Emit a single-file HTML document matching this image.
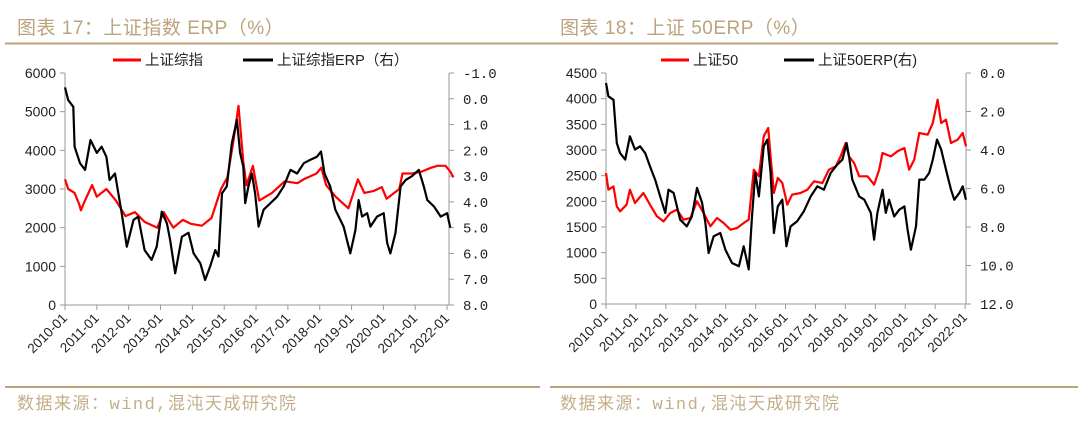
<!DOCTYPE html>
<html><head><meta charset="utf-8">
<style>
body{margin:0;background:#fff;width:1080px;height:424px;overflow:hidden;font-family:"Liberation Sans","Noto Sans CJK SC",sans-serif;}
svg{display:block}
</style></head>
<body>
<svg id="chart" width="1080" height="424" xmlns="http://www.w3.org/2000/svg">
<g>
<text x="17" y="34" font-size="19" fill="#bba37c" letter-spacing="0.5" font-family="Liberation Sans,Noto Sans CJK SC,sans-serif">图表 17：上证指数 ERP（%）</text>
<line x1="5" y1="43.5" x2="540" y2="43.5" stroke="#bca27a" stroke-width="2"/>
</g>
<g>
<text x="560" y="34" font-size="19" fill="#bba37c" letter-spacing="0.5" font-family="Liberation Sans,Noto Sans CJK SC,sans-serif">图表 18：上证 50ERP（%）</text>
<line x1="540" y1="43.5" x2="1058" y2="43.5" stroke="#bca27a" stroke-width="2"/>
</g>
<line x1="5" y1="387" x2="540" y2="387" stroke="#bca27a" stroke-width="2"/>
<line x1="550" y1="387" x2="1078" y2="387" stroke="#bca27a" stroke-width="2"/>
<text x="17" y="409" font-size="17" letter-spacing="1.5" fill="#c4ad88" font-family="Liberation Mono,Noto Sans CJK SC,monospace">数据来源：wind,混沌天成研究院</text>
<text x="560" y="409" font-size="17" letter-spacing="1.5" fill="#c4ad88" font-family="Liberation Mono,Noto Sans CJK SC,monospace">数据来源：wind,混沌天成研究院</text>
</svg>
<script>
// ---- Chart 17 data ----
const xTickLabels = ["2010-01","2011-01","2012-01","2013-01","2014-01","2015-01","2016-01","2017-01","2018-01","2019-01","2020-01","2021-01","2022-01"];
const leftAxisTicks1 = [0,1000,2000,3000,4000,5000,6000];
const rightAxisTicks1 = ["-1.0","0.0","1.0","2.0","3.0","4.0","5.0","6.0","7.0","8.0"];
const shIndexYears = [0,0.1,0.3,0.45,0.5,0.6,0.85,1.0,1.3,1.6,1.9,2.2,2.5,2.9,3.1,3.4,3.7,3.95,4.3,4.6,4.9,5.1,5.3,5.45,5.6,5.7,5.9,6.1,6.5,6.9,7.3,7.5,7.9,8.05,8.2,8.5,8.9,9.2,9.4,9.7,9.95,10.1,10.5,10.6,10.9,11.2,11.5,11.7,11.95,12.1,12.2];
const shIndexValues = [3250,3000,2900,2600,2450,2650,3100,2800,3000,2700,2300,2400,2150,2000,2400,2000,2200,2100,2050,2250,3000,3300,4300,5150,3700,3100,3600,2700,2900,3200,3150,3250,3400,3550,3100,2800,2500,3250,2900,2950,3050,2750,3000,3400,3400,3450,3550,3600,3600,3450,3300];
const shErpYears = [0,0.1,0.26,0.3,0.47,0.63,0.8,1.0,1.15,1.3,1.4,1.57,1.78,1.94,2.15,2.3,2.5,2.72,2.88,3.04,3.2,3.3,3.46,3.67,3.88,4.04,4.25,4.4,4.56,4.72,4.82,4.93,5.08,5.24,5.4,5.5,5.6,5.66,5.76,5.87,5.97,6.08,6.24,6.45,6.66,6.87,7.08,7.29,7.5,7.7,7.91,8.04,8.15,8.33,8.49,8.75,8.96,9.12,9.22,9.33,9.49,9.59,9.8,10.01,10.12,10.22,10.38,10.54,10.7,10.9,11.11,11.27,11.38,11.59,11.8,12.0,12.1];
const shErpValues = [-0.44,0.05,0.31,1.86,2.5,2.76,1.6,2.1,1.86,2.25,3.15,2.9,4.44,5.74,4.7,4.57,5.87,6.25,5.74,4.38,4.83,5.47,6.77,5.35,5.2,6.0,6.38,7.03,6.5,5.87,6.12,3.67,3.4,1.73,0.82,2.1,2.63,4.05,3.4,2.9,3.67,4.96,4.3,4.05,3.8,3.4,2.76,2.9,2.5,2.37,2.25,2.05,2.9,3.4,4.3,4.96,6.0,5.1,3.93,4.57,4.44,4.96,4.57,4.44,5.6,6.0,5.2,3.4,3.15,3.0,2.76,3.4,3.93,4.18,4.57,4.44,5.0];
// ---- Chart 18 data ----
const leftAxisTicks2 = [0,500,1000,1500,2000,2500,3000,3500,4000,4500];
const rightAxisTicks2 = ["0.0","2.0","4.0","6.0","8.0","10.0","12.0"];
const sz50Years = [0,0.08,0.25,0.36,0.47,0.69,0.8,0.97,1.25,1.47,1.7,1.92,2.15,2.37,2.59,2.82,3.04,3.26,3.49,3.71,3.93,4.16,4.38,4.6,4.77,4.94,5.11,5.27,5.42,5.5,5.61,5.74,5.89,6.06,6.22,6.5,6.73,6.95,7.23,7.45,7.68,7.84,8.01,8.12,8.29,8.46,8.74,8.96,9.13,9.24,9.52,9.74,9.97,10.13,10.3,10.47,10.75,10.92,11.08,11.2,11.36,11.53,11.75,11.92,12.03];
const sz50Values = [2552,2227,2290,1900,1805,1935,2227,1967,2162,1935,1708,1610,1773,1838,1643,1675,2000,1773,1513,1675,1578,1448,1480,1578,1643,2617,2487,3266,3428,2876,2162,2455,2357,1935,2130,2162,2227,2390,2357,2617,2682,2876,3136,2876,2747,2487,2487,2325,2617,2941,2876,2974,3039,2617,2812,3331,3299,3526,3980,3526,3591,3136,3201,3331,3071];
const sz50ErpYears = [0,0.08,0.25,0.36,0.47,0.64,0.8,0.97,1.14,1.31,1.47,1.64,1.81,1.98,2.09,2.26,2.48,2.7,2.87,3.04,3.21,3.32,3.43,3.6,3.82,3.99,4.21,4.44,4.6,4.77,4.88,4.99,5.11,5.27,5.39,5.5,5.61,5.74,5.89,6.03,6.17,6.39,6.61,6.84,7.06,7.28,7.51,7.73,7.9,8.04,8.12,8.23,8.46,8.63,8.85,8.96,9.07,9.24,9.35,9.46,9.63,9.8,9.97,10.08,10.19,10.36,10.47,10.64,10.8,10.92,11.06,11.2,11.36,11.53,11.64,11.81,11.92,12.03];
const sz50ErpValues = [0.52,1.21,1.39,3.64,4.16,4.5,3.29,3.98,3.81,4.16,4.85,5.54,6.41,7.27,6.06,6.23,7.62,7.97,7.45,5.97,6.75,7.79,9.35,8.48,8.31,9.18,9.87,10.04,9.0,10.2,7.45,5.19,6.41,3.81,3.46,5.19,8.31,6.93,6.58,9.0,7.97,7.7,7.19,6.41,5.89,6.06,5.19,4.76,4.5,3.64,4.33,5.54,6.41,6.58,7.27,8.66,7.27,6.06,7.27,6.58,7.45,7.1,6.93,8.14,9.18,7.97,5.54,5.54,5.19,4.5,3.46,3.98,5.02,6.06,6.58,6.23,5.89,6.58];

const NS='http://www.w3.org/2000/svg';
const svg=document.getElementById('chart');
function mk(tag,attrs,parent){const e=document.createElementNS(NS,tag);for(const k in attrs)e.setAttribute(k,attrs[k]);(parent||svg).appendChild(e);return e;}

function drawChart(c){
  const g=mk('g',{});
  
  
  const xS=v=>c.x0+(v/c.xMax)*(c.x1-c.x0);
  const yL=v=>c.yB-(v-c.lMin)/(c.lMax-c.lMin)*(c.yB-c.yT);
  const yR=v=>c.yT+(v-c.rMin)/(c.rMax-c.rMin)*(c.yB-c.yT);
  const axL=mk('line',{x1:c.x0,y1:c.yT,x2:c.x0,y2:c.yB,stroke:'#999','stroke-width':1},g);
  
  
  const axR=mk('line',{x1:c.x1,y1:c.yT,x2:c.x1,y2:c.yB,stroke:'#999','stroke-width':1},g);
  
  
  const axX=mk('line',{x1:c.x0-4,y1:c.yB,x2:c.x1+4,y2:c.yB,stroke:'#999','stroke-width':1},g);
  
  
  c.lTicks.forEach(v=>{
    const y=yL(v);
    mk('line',{x1:c.x0-5,y1:y,x2:c.x0,y2:y,stroke:'#999'},g);
    const t=mk('text',{x:c.x0-9,y:y+5,'font-size':14,'text-anchor':'end',fill:'#222'},g);
    t.textContent=v;
    
    
  });
  c.rTicks.forEach(s=>{
    const y=yR(parseFloat(s));
    mk('line',{x1:c.x1,y1:y,x2:c.x1+5,y2:y,stroke:'#999'},g);
    const t=mk('text',{x:c.x1+14,y:y+5,'font-size':14,fill:'#222','font-family':'Liberation Mono,monospace'},g);
    t.textContent=s;
    
    
  });
  xTickLabels.forEach((s,i)=>{
    const x=xS(i);
    mk('line',{x1:x,y1:c.yB,x2:x,y2:c.yB+5,stroke:'#999'},g);
    const t=mk('text',{x:x+3,y:c.yB+14,'font-size':13.5,'text-anchor':'end',fill:'#222',transform:`rotate(-45 ${x+3} ${c.yB+14})`},g);
    t.textContent=s;
    
    
  });
  const p1=mk('polyline',{points:c.redX.map((v,i)=>xS(v).toFixed(1)+','+yL(c.redY[i]).toFixed(1)).join(' '),fill:'none',stroke:'#ff0000','stroke-width':2.2,'stroke-linejoin':'round'},g);
  
  
  const p2=mk('polyline',{points:c.blkX.map((v,i)=>xS(v).toFixed(1)+','+yR(c.blkY[i]).toFixed(1)).join(' '),fill:'none',stroke:'#000','stroke-width':2.2,'stroke-linejoin':'round'},g);
  
  
  const lg=mk('g',{},g);
  
  
  mk('line',{x1:c.lg1,y1:60,x2:c.lg1+28,y2:60,stroke:'#ff0000','stroke-width':3},lg);
  const t1=mk('text',{x:c.lg1+32,y:65,'font-size':14.5,fill:'#222'},lg);
  t1.textContent=c.redName;
  
  
  mk('line',{x1:c.lg2,y1:60,x2:c.lg2+30,y2:60,stroke:'#000','stroke-width':3},lg);
  const t2=mk('text',{x:c.lg2+34,y:65,'font-size':14.5,fill:'#222'},lg);
  t2.textContent=c.blkName;
  
  
}

drawChart({name:'chart-17-sh-composite',x0:65,x1:449,xMax:12.06,yT:73,yB:305,lMin:0,lMax:6000,rMin:-1,rMax:8,
  lTicks:leftAxisTicks1,rTicks:rightAxisTicks1,redX:shIndexYears,redY:shIndexValues,blkX:shErpYears,blkY:shErpValues,
  lg1:113,lg2:243,redName:'上证综指',blkName:'上证综指ERP（右）'});
drawChart({name:'chart-18-sz50',x0:606,x1:966,xMax:12.03,yT:73,yB:304,lMin:0,lMax:4500,rMin:0,rMax:12,
  lTicks:leftAxisTicks2,rTicks:rightAxisTicks2,redX:sz50Years,redY:sz50Values,blkX:sz50ErpYears,blkY:sz50ErpValues,
  lg1:661,lg2:784,redName:'上证50',blkName:'上证50ERP(右)'});
</script>
</body></html>
